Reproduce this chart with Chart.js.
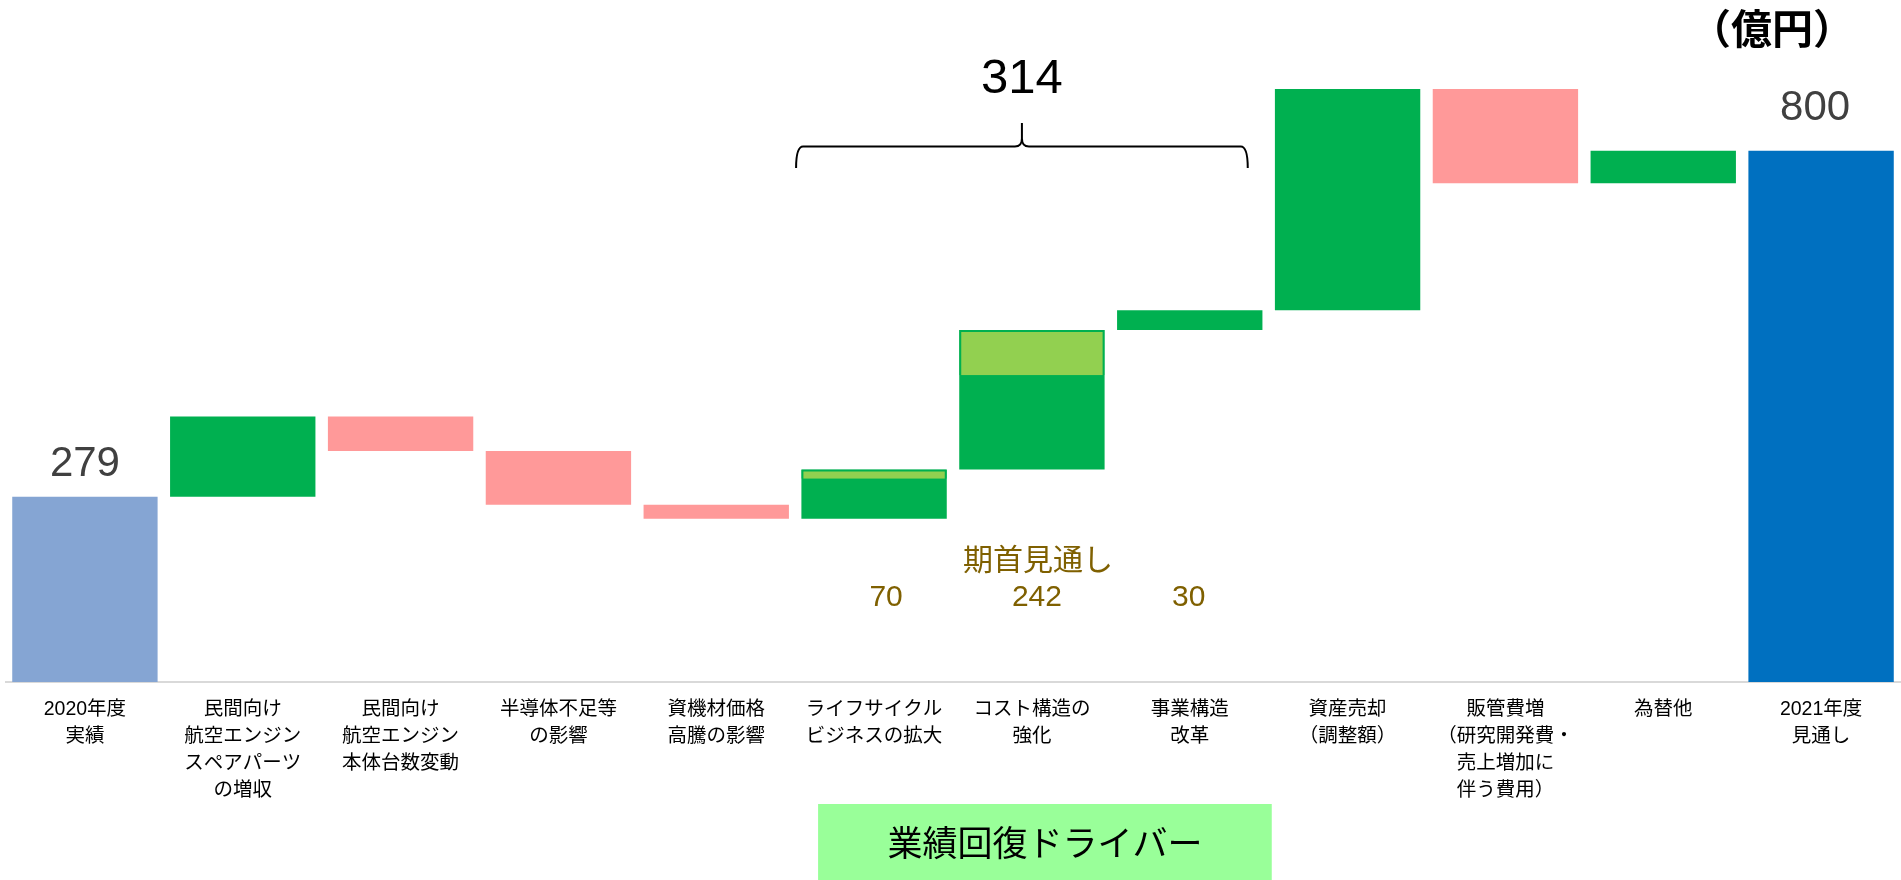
<!DOCTYPE html>
<html>
<head>
<meta charset="utf-8">
<script src="https://cdn.jsdelivr.net/npm/chart.js@4/dist/chart.umd.min.js"></script>
<style>
  html, body { margin: 0; padding: 0; background: #fff; }
  #wrap { width: 1901px; height: 880px; position: relative; }
</style>
</head>
<body>
<div id="wrap"><canvas id="c"></canvas></div>
<script>
// ---- data ----
const categories = [
  ['2020年度', '実績'],
  ['民間向け', '航空エンジン', 'スペアパーツ', 'の増収'],
  ['民間向け', '航空エンジン', '本体台数変動'],
  ['半導体不足等', 'の影響'],
  ['資機材価格', '高騰の影響'],
  ['ライフサイクル', 'ビジネスの拡大'],
  ['コスト構造の', '強化'],
  ['事業構造', '改革'],
  ['資産売却', '（調整額）'],
  ['販管費増', '（研究開発費・', '売上増加に', '伴う費用）'],
  ['為替他'],
  ['2021年度', '見通し']
];
const startValue = 279;
const endValue = 800;
const deltas = [121, -52, -81, -21, 74, 210, 30, 333, -142, 49];
// upper (light green) part of the driver bars
const upperPart = [null, null, null, null, null, 14, 68, null, null, null, null, null];
// initial forecast (期首見通し) for the driver bars
const initialForecast = [null, null, null, null, null, 70, 242, 30, null, null, null, null];
const driverTotal = 314;
const driverRange = [5, 7];
const unitLabel = '（億円）';
const driverBoxLabel = '業績回復ドライバー';
const forecastLabel = '期首見通し';

// ---- build floating bars ----
const mainData = [];
const mainColors = [];
let level = startValue;
mainData.push([0, startValue]);
mainColors.push('#85A5D3');
deltas.forEach(d => {
  const next = level + d;
  mainData.push([Math.min(level, next), Math.max(level, next)]);
  mainColors.push(d >= 0 ? '#00B050' : '#FF9999');
  level = next;
});
mainData.push([0, endValue]);
mainColors.push('#0070C0');

const upperData = upperPart.map((u, i) => u == null ? null : [mainData[i][1] - u, mainData[i][1]]);

const LABEL_FONT = '"Liberation Sans", "Noto Sans CJK JP", sans-serif';
const CJK_FONT = '"Noto Sans CJK JP", "Liberation Sans", sans-serif';

const annot = {
  id: 'annot',
  afterDraw(chart) {
    const ctx = chart.ctx;
    const x = chart.scales.x;
    const main = chart.getDatasetMeta(1).data;
    ctx.save();

    // value labels for first / last bar
    ctx.fillStyle = '#404040';
    ctx.font = '42px ' + LABEL_FONT;
    ctx.textAlign = 'center';
    ctx.textBaseline = 'alphabetic';
    ctx.fillText(String(startValue), main[0].x, main[0].y - 21);
    const last = main[main.length - 1];
    ctx.fillText(String(endValue), last.x - 6, last.y - 31);

    // unit label
    ctx.fillStyle = '#000';
    ctx.font = 'bold 41px ' + CJK_FONT;
    ctx.textBaseline = 'middle';
    ctx.fillText(unitLabel, 1772, 28);

    // brace over driver bars
    const left = x.getPixelForValue(driverRange[0]) - 78;
    const right = x.getPixelForValue(driverRange[1]) + 58;
    const cx = (left + right) / 2;
    const yb = 146.5, ye = 168, yt = 123;
    ctx.strokeStyle = '#000';
    ctx.lineWidth = 2;
    ctx.beginPath();
    ctx.moveTo(left, ye);
    ctx.quadraticCurveTo(left, yb, left + 7, yb);
    ctx.lineTo(cx - 7, yb);
    ctx.quadraticCurveTo(cx, yb, cx, yb - 8);
    ctx.lineTo(cx, yt);
    ctx.moveTo(cx, yb - 8);
    ctx.quadraticCurveTo(cx, yb, cx + 7, yb);
    ctx.lineTo(right - 7, yb);
    ctx.quadraticCurveTo(right, yb, right, ye);
    ctx.stroke();

    ctx.fillStyle = '#000';
    ctx.font = '49px ' + LABEL_FONT;
    ctx.textBaseline = 'alphabetic';
    ctx.fillText(String(driverTotal), cx, 93);

    // initial forecast
    ctx.fillStyle = '#7F6000';
    ctx.font = '30px ' + CJK_FONT;
    ctx.textBaseline = 'middle';
    ctx.fillText(forecastLabel, x.getPixelForValue(6) + 6, 559);
    ctx.font = '30px ' + LABEL_FONT;
    ctx.textBaseline = 'alphabetic';
    const shifts = { 5: 12, 6: 5, 7: -1 };
    initialForecast.forEach((v, i) => {
      if (v == null) return;
      ctx.fillText(String(v), x.getPixelForValue(i) + (shifts[i] || 0), 606);
    });

    // driver box
    const bl = x.getPixelForValue(driverRange[0]) - 56;
    const br = x.getPixelForValue(driverRange[1]) + 82;
    ctx.fillStyle = '#99FF99';
    ctx.fillRect(bl, 804, br - bl, 76);
    ctx.fillStyle = '#000';
    ctx.font = '35px ' + CJK_FONT;
    ctx.textBaseline = 'middle';
    ctx.fillText(driverBoxLabel, (bl + br) / 2, 843);

    ctx.restore();
  }
};

new Chart(document.getElementById('c'), {
  type: 'bar',
  data: {
    labels: categories,
    datasets: [
      {
        data: upperData,
        backgroundColor: '#92D050',
        borderColor: '#00B050',
        borderWidth: { top: 2, left: 2, right: 2, bottom: 0 },
        borderSkipped: false,
        grouped: false,
        order: 0,
        barPercentage: 0.921,
        categoryPercentage: 1
      },
      {
        data: mainData,
        backgroundColor: mainColors,
        borderWidth: 0,
        grouped: false,
        order: 1,
        barPercentage: 0.921,
        categoryPercentage: 1
      }
    ]
  },
  options: {
    responsive: true,
    maintainAspectRatio: false,
    animation: false,
    layout: { padding: { left: 6, right: 1, top: 18, bottom: 0 } },
    plugins: { legend: { display: false }, tooltip: { enabled: false } },
    scales: {
      y: { display: false, min: 0, max: 1000 },
      x: {
        grid: { display: false, drawTicks: false },
        border: { display: true, color: '#D9D9D9', width: 2 },
        ticks: {
          color: '#000',
          padding: 14,
          maxRotation: 0,
          autoSkip: false,
          font: { family: LABEL_FONT, size: 19.5, lineHeight: '27px' }
        },
        afterFit(s) { s.height = 198; }
      }
    }
  },
  plugins: [annot]
});
</script>
</body>
</html>
